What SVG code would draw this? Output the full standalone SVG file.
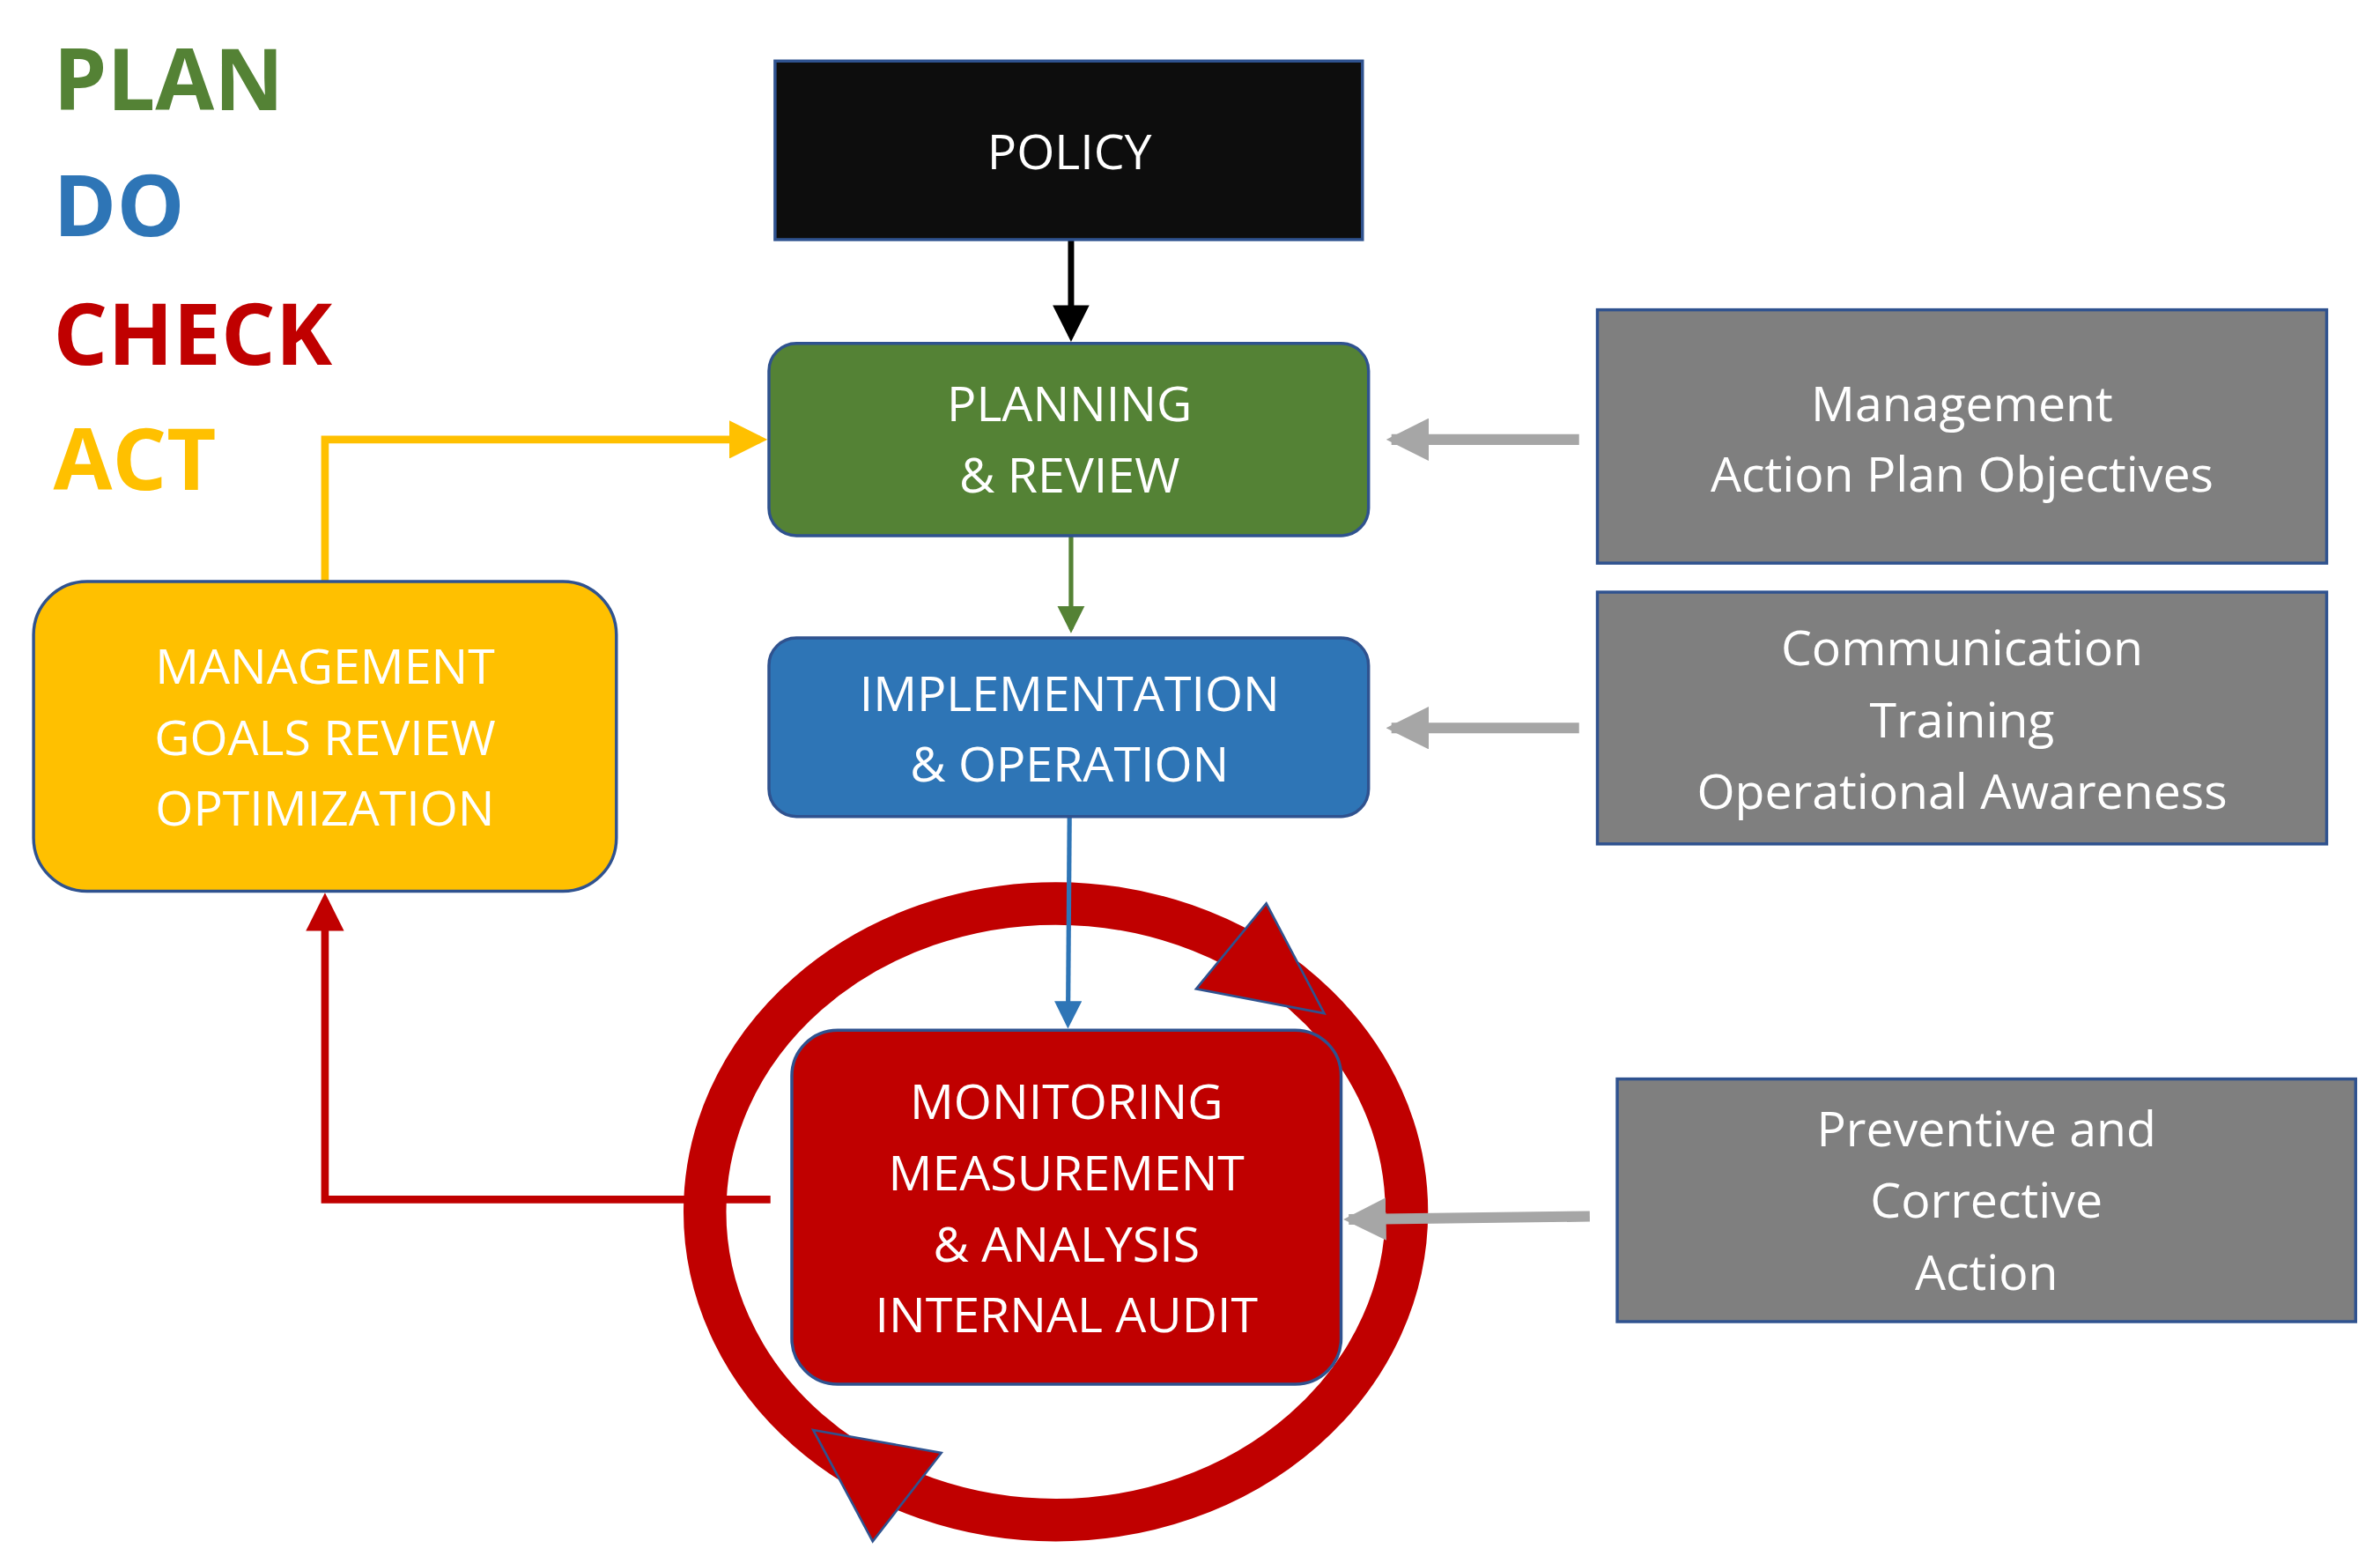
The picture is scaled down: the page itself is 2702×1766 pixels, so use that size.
<svg xmlns="http://www.w3.org/2000/svg" width="2702" height="1766" viewBox="0 0 2702 1766">
<style>
.t{font-family:"Open Sans","Liberation Sans",sans-serif;font-size:32px;fill:#fff;text-anchor:middle}
.h{font-family:"Open Sans","Liberation Sans",sans-serif;font-size:56px;font-weight:bold}
.box{stroke:#2F528F;stroke-width:2}
</style>
<defs>
<marker id="ab" markerWidth="6" markerHeight="6" refX="5" refY="3" orient="auto" markerUnits="strokeWidth"><path d="M0,0L6,3L0,6z" fill="#000"/></marker>
<marker id="ag" markerWidth="6" markerHeight="6" refX="5" refY="3" orient="auto" markerUnits="strokeWidth"><path d="M0,0L6,3L0,6z" fill="#548235"/></marker>
<marker id="au" markerWidth="6" markerHeight="6" refX="5" refY="3" orient="auto" markerUnits="strokeWidth"><path d="M0,0L6,3L0,6z" fill="#2E75B6"/></marker>
<marker id="ay" markerWidth="5" markerHeight="5" refX="4" refY="2.5" orient="auto" markerUnits="strokeWidth"><path d="M0,0L5,2.5L0,5z" fill="#FFC000"/></marker>
<marker id="ar" markerWidth="5" markerHeight="5" refX="4" refY="2.5" orient="auto" markerUnits="strokeWidth"><path d="M0,0L5,2.5L0,5z" fill="#C00000"/></marker>
<marker id="agr" markerWidth="4" markerHeight="4" refX="3.5" refY="2" orient="auto" markerUnits="strokeWidth"><path d="M0,0L4,2L0,4z" fill="#A6A6A6"/></marker>
</defs>
<rect width="2702" height="1766" fill="#fff"/>
<g transform="scale(1.7321)">
<g id="legend">
<text class="h" x="35" y="72" fill="#548235">PLAN</text>
<text class="h" x="35" y="155" fill="#2E75B6">DO</text>
<text class="h" x="35" y="239" fill="#C00000">CHECK</text>
<text class="h" x="35" y="321" fill="#FFC000">ACT</text>
</g>
<g id="ring">
<ellipse cx="692" cy="794" rx="230" ry="202" fill="none" stroke="#C00000" stroke-width="28"/>
<polygon points="830,592 784,648 868,664" fill="#C00000" stroke="#2F528F" stroke-width="1.5"/>
<polygon points="533,937 617,952 572,1010" fill="#C00000" stroke="#2F528F" stroke-width="1.5"/>
</g>
<g id="connectors" fill="none">
<line x1="702" y1="157" x2="702" y2="220" stroke="#000" stroke-width="4" marker-end="url(#ab)"/>
<line x1="702" y1="351" x2="702" y2="412" stroke="#548235" stroke-width="3" marker-end="url(#ag)"/>
<line x1="701" y1="535" x2="700" y2="671" stroke="#2E75B6" stroke-width="3" marker-end="url(#au)"/>
<polyline points="213,381 213,288 498,288" stroke="#FFC000" stroke-width="5" marker-end="url(#ay)"/>
<polyline points="505,786 213,786 213,590" stroke="#C00000" stroke-width="5" marker-end="url(#ar)"/>
<line x1="1035" y1="288" x2="912" y2="288" stroke="#A6A6A6" stroke-width="7" marker-end="url(#agr)"/>
<line x1="1035" y1="477" x2="912" y2="477" stroke="#A6A6A6" stroke-width="7" marker-end="url(#agr)"/>
<line x1="1042" y1="797" x2="884" y2="799" stroke="#A6A6A6" stroke-width="7" marker-end="url(#agr)"/>
</g>
<g id="policy"><rect class="box" x="508" y="40" width="385" height="117" fill="#0D0D0D"/><text class="t" x="701" y="111">POLICY</text></g>
<g id="planning"><rect class="box" x="504" y="225" width="393" height="126" rx="18" fill="#548235"/><text class="t" x="701" y="276">PLANNING</text><text class="t" x="701" y="323">&amp; REVIEW</text></g>
<g id="implementation"><rect class="box" x="504" y="418" width="393" height="117" rx="18" fill="#2E75B6"/><text class="t" x="701" y="466">IMPLEMENTATION</text><text class="t" x="701" y="512">&amp; OPERATION</text></g>
<g id="monitoring"><rect class="box" x="519" y="675" width="360" height="232" rx="30" fill="#C00000"/><text class="t" x="699" y="733">MONITORING</text><text class="t" x="699" y="780">MEASUREMENT</text><text class="t" x="699" y="827">&amp; ANALYSIS</text><text class="t" x="699" y="873">INTERNAL AUDIT</text></g>
<g id="management"><rect class="box" x="22" y="381" width="382" height="203" rx="35" fill="#FFC000"/><text class="t" x="213" y="448">MANAGEMENT</text><text class="t" x="213" y="495">GOALS REVIEW</text><text class="t" x="213" y="541">OPTIMIZATION</text></g>
<g id="objectives"><rect class="box" x="1047" y="203" width="478" height="166" fill="#7F7F7F"/><text class="t" x="1286" y="276">Management</text><text class="t" x="1286" y="322">Action Plan Objectives</text></g>
<g id="communication"><rect class="box" x="1047" y="388" width="478" height="165" fill="#7F7F7F"/><text class="t" x="1286" y="436">Communication</text><text class="t" x="1286" y="483">Training</text><text class="t" x="1286" y="530">Operational Awareness</text></g>
<g id="preventive"><rect class="box" x="1060" y="707" width="484" height="159" fill="#7F7F7F"/><text class="t" x="1302" y="751">Preventive and</text><text class="t" x="1302" y="798">Corrective</text><text class="t" x="1302" y="845">Action</text></g>
</g>
</svg>
